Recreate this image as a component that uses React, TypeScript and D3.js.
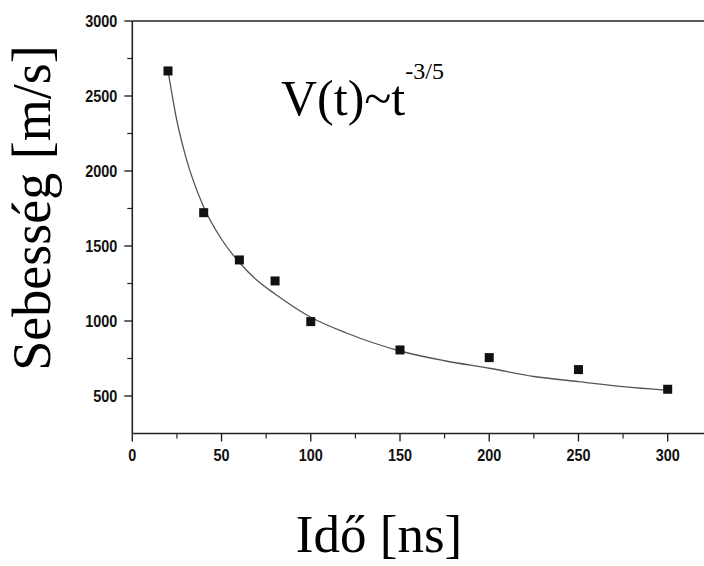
import React from "react";
import * as d3 from "d3";

const times = [20, 40, 60, 80, 100, 150, 200, 250, 300];
const speeds = [2667, 1722, 1407, 1267, 996, 807, 756, 676, 545];

const fitTimes = [20, 25, 30, 40, 50, 60, 70, 80, 100, 120, 150, 175, 200, 225, 250, 275, 300];
const fitSpeeds = [2670, 2334, 2092, 1760, 1545, 1390, 1270, 1180, 1025, 920, 800, 735, 685, 630, 596, 562, 538];

const xMajorTicks = [0, 50, 100, 150, 200, 250, 300];
const xMinorTicks = [25, 75, 125, 175, 225, 275];
const yMajorTicks = [500, 1000, 1500, 2000, 2500, 3000];
const yMinorTicks = [750, 1250, 1750, 2250, 2750];

const xLabel = "Idő [ns]";
const yLabel = "Sebesség [m/s]";

export default function App() {
  const x = d3.scaleLinear().domain([0, 300]).range([132.3, 667.7]);
  const y = d3.scaleLinear().domain([250, 3000]).range([433.5, 21]);
  const x0 = x(0);
  const y0 = y(250);
  const axisColor = "#222";
  const line = d3
    .line<number>()
    .x((_, i) => x(fitTimes[i]))
    .y((d) => y(d))
    .curve(d3.curveMonotoneX);

  const tickFont = {
    fontFamily: "'Liberation Sans', Arial, sans-serif",
    fontWeight: 700,
    fontSize: 16,
    fill: "#111",
  } as const;
  const serif = "'Liberation Serif', 'Times New Roman', serif";

  return (
    <svg
      width={704}
      height={566}
      style={{ position: "absolute", left: 0, top: 0, background: "#fff" }}
    >
      <rect x={0} y={0} width={704} height={566} fill="#fff" />
      {/* frame top line */}
      <line x1={x0} x2={704} y1={y(3000)} y2={y(3000)} stroke={axisColor} strokeWidth={1.6} />
      {/* axes */}
      <line x1={x0} x2={704} y1={y0} y2={y0} stroke={axisColor} strokeWidth={1.6} />
      <line x1={x0} x2={x0} y1={y(3000)} y2={y0} stroke={axisColor} strokeWidth={1.6} />

      {xMajorTicks.map((t) => (
        <g key={"xm" + t}>
          <line x1={x(t)} x2={x(t)} y1={y0} y2={y0 + 8} stroke={axisColor} strokeWidth={1.4} />
          <text
            transform={`translate(${x(t)},${y0 + 27.5}) scale(0.9,1)`}
            textAnchor="middle"
            {...tickFont}
          >
            {t}
          </text>
        </g>
      ))}
      {xMinorTicks.map((t) => (
        <line key={"xn" + t} x1={x(t)} x2={x(t)} y1={y0} y2={y0 + 5} stroke={axisColor} strokeWidth={1.2} />
      ))}
      {yMajorTicks.map((t) => (
        <g key={"ym" + t}>
          <line x1={x0 - 8} x2={x0} y1={y(t)} y2={y(t)} stroke={axisColor} strokeWidth={1.4} />
          <text
            transform={`translate(${x0 - 15},${y(t)}) scale(0.9,1)`}
            dy="0.36em"
            textAnchor="end"
            {...tickFont}
          >
            {t}
          </text>
        </g>
      ))}
      {yMinorTicks.map((t) => (
        <line key={"yn" + t} x1={x0 - 5} x2={x0} y1={y(t)} y2={y(t)} stroke={axisColor} strokeWidth={1.2} />
      ))}

      {/* fitted curve */}
      <path d={line(fitSpeeds) || ""} fill="none" stroke="#555" strokeWidth={1.3} />

      {/* data markers */}
      {times.map((t, i) => (
        <rect key={"p" + t} x={x(t) - 4.5} y={y(speeds[i]) - 4.5} width={9} height={9} fill="#111" />
      ))}

      {/* formula */}
      <text x={281} y={115} fontFamily={serif} fontSize={50} fill="#000">
        V(t)~t
        <tspan dy={-36} fontSize={24}>-3/5</tspan>
      </text>

      {/* axis titles */}
      <text
        transform={`translate(50,208) rotate(-90)`}
        textAnchor="middle"
        fontFamily={serif}
        fontSize={54}
        fill="#000"
      >
        {yLabel}
      </text>
      <text x={379} y={552} textAnchor="middle" fontFamily={serif} fontSize={53} fill="#000">
        {xLabel}
      </text>
    </svg>
  );
}
